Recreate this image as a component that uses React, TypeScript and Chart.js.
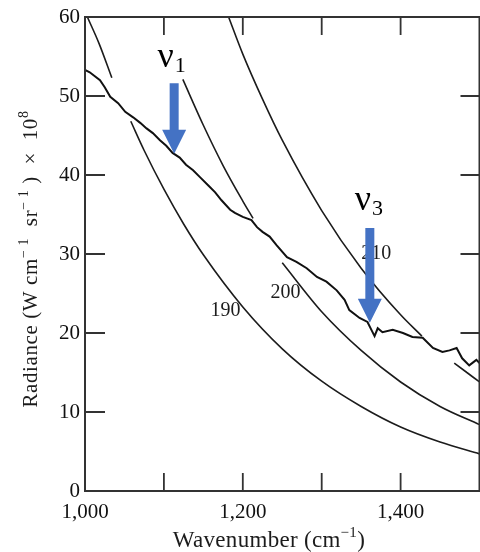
import React, { useEffect, useRef } from 'react';
import { Chart, registerables } from 'chart.js';

Chart.register(...registerables);

// ---- data ----
const spectrumWavenumber = [1000,1006,1019,1025,1032,1042,1051,1061,1070,1078,1086,1095,1103,1111,1120,1128,1137,1146,1156,1165,1173,1184,1190,1200,1211,1218,1225,1234,1243,1256,1268,1281,1294,1306,1319,1329,1335,1348,1358,1363,1367,1371,1377,1390,1403,1415,1428,1441,1453,1462,1471,1478,1487,1496,1500];
const spectrumRadiance = [53.3,53.0,52.0,51.1,49.9,49.1,48.0,47.3,46.6,45.9,45.3,44.4,43.7,42.8,42.2,41.3,40.6,39.7,38.7,37.8,36.8,35.6,35.2,34.7,34.3,33.4,32.8,32.2,31.1,29.6,29.0,28.2,27.1,26.5,25.4,24.2,22.9,21.9,21.4,20.4,19.6,20.6,20.1,20.4,20.0,19.5,19.4,18.1,17.6,17.8,18.1,16.8,15.9,16.6,16.2];

const k190UpperWn = [1003, 1018, 1034];
const k190UpperRad = [60, 56.6, 52.3];
const k190LowerWn = [1058, 1075, 1100, 1125, 1150, 1200, 1250, 1300, 1350, 1400, 1450, 1500];
const k190LowerRad = [46.8, 43.1, 38.2, 33.8, 29.9, 23.3, 18.0, 13.9, 10.7, 8.1, 6.2, 4.7];

const k200UpperWn = [1124, 1150, 1175, 1200, 1213];
const k200UpperRad = [52.1, 46.3, 41.2, 36.7, 34.5];
const k200LowerWn = [1250, 1300, 1350, 1400, 1450, 1500];
const k200LowerRad = [28.9, 22.7, 17.8, 13.8, 10.7, 8.4];

const k210MainWn = [1182, 1200, 1225, 1250, 1300, 1350, 1400, 1427];
const k210MainRad = [60, 55.3, 49.6, 44.4, 35.5, 28.2, 22.3, 19.6];
const k210TailWn = [1468, 1484, 1500];
const k210TailRad = [16.2, 15.0, 13.8];

const curveLabels = ['190', '200', '210'];
const curveLabelWn = [1178, 1254, 1369];
const curveLabelRad = [22.8, 25.1, 30.0];

const bandNames = ['1', '3'];
const bandLabelWn = [1092, 1342];
const bandLabelRad = [53.7, 35.6];
const arrowWn = [1113, 1361];
const arrowTopRad = [51.6, 33.3];
const arrowTipRad = [42.7, 21.3];

const xLabelValues = [1000, 1200, 1400];
const xTickMarks = [1100, 1200, 1300, 1400];
const yTickMarks = [10, 20, 30, 40, 50];

const xTitleRuns = [{ t: 'Wavenumber (cm' }, { t: '\u22121', sup: true }, { t: ')' }];
const yTitleRuns = [
  { t: 'Radiance (W cm' }, { t: '\u2212 1', sup: true }, { t: '  sr' }, { t: '\u2212 1', sup: true },
  { t: ' )  \u00d7  10' }, { t: '8', sup: true },
];

const SERIF = '"Liberation Serif", "Times New Roman", serif';
const INK = '#1c1c1c';
const BLUE = '#4472C4';

type Run = { t: string; sup?: boolean };

function drawRuns(ctx: CanvasRenderingContext2D, runs: Run[], cx: number, baseY: number, size: number, supSize: number, raise: number, spacing: number) {
  (ctx as any).letterSpacing = `${spacing}px`;
  const widths = runs.map((r) => {
    ctx.font = `${r.sup ? supSize : size}px ${SERIF}`;
    return ctx.measureText(r.t).width;
  });
  const total = widths.reduce((a, b) => a + b, 0);
  let x = cx - total / 2;
  ctx.textAlign = 'left';
  ctx.textBaseline = 'alphabetic';
  runs.forEach((r, i) => {
    ctx.font = `${r.sup ? supSize : size}px ${SERIF}`;
    ctx.fillText(r.t, x, r.sup ? baseY - raise : baseY);
    x += widths[i];
  });
  (ctx as any).letterSpacing = '0px';
}

const decorPlugin = {
  id: 'decor',
  afterDraw(chart: any) {
    const { ctx, chartArea, scales } = chart;
    const { left, right, top, bottom } = chartArea;
    const xs = scales.x;
    const ys = scales.y;
    ctx.save();
    // frame
    ctx.strokeStyle = '#333';
    ctx.lineWidth = 2;
    ctx.strokeRect(left, top, right - left, bottom - top);
    // inward ticks
    ctx.lineWidth = 1.8;
    ctx.beginPath();
    for (const v of yTickMarks) {
      const py = ys.getPixelForValue(v);
      ctx.moveTo(left, py); ctx.lineTo(left + 20, py);
      ctx.moveTo(right, py); ctx.lineTo(right - 19, py);
    }
    for (const v of xTickMarks) {
      const px = xs.getPixelForValue(v);
      ctx.moveTo(px, bottom); ctx.lineTo(px, bottom - 18);
      ctx.moveTo(px, top); ctx.lineTo(px, top + 18);
    }
    ctx.stroke();

    // curve temperature labels
    ctx.fillStyle = INK;
    ctx.font = `20px ${SERIF}`;
    ctx.textAlign = 'center';
    ctx.textBaseline = 'middle';
    curveLabels.forEach((s, i) => {
      ctx.fillText(s, xs.getPixelForValue(curveLabelWn[i]), ys.getPixelForValue(curveLabelRad[i]));
    });

    // band labels nu_1, nu_3
    bandNames.forEach((n, i) => {
      const px = xs.getPixelForValue(bandLabelWn[i]);
      const py = ys.getPixelForValue(bandLabelRad[i]);
      ctx.fillStyle = '#000';
      ctx.textAlign = 'left';
      ctx.textBaseline = 'alphabetic';
      ctx.font = `36px ${SERIF}`;
      ctx.fillText('\u03bd', px, py);
      const w = ctx.measureText('\u03bd').width;
      ctx.font = `22px ${SERIF}`;
      ctx.fillText(n, px + w + 1, py + 5);
    });

    // arrows
    ctx.fillStyle = BLUE;
    arrowWn.forEach((wn, i) => {
      const px = xs.getPixelForValue(wn);
      const pTop = ys.getPixelForValue(arrowTopRad[i]);
      const pTip = ys.getPixelForValue(arrowTipRad[i]);
      const headLen = 24, headHalf = 12, shaftHalf = 4.5;
      ctx.beginPath();
      ctx.moveTo(px - shaftHalf, pTop);
      ctx.lineTo(px + shaftHalf, pTop);
      ctx.lineTo(px + shaftHalf, pTip - headLen);
      ctx.lineTo(px + headHalf, pTip - headLen);
      ctx.lineTo(px, pTip);
      ctx.lineTo(px - headHalf, pTip - headLen);
      ctx.lineTo(px - shaftHalf, pTip - headLen);
      ctx.closePath();
      ctx.fill();
    });

    // axis titles
    ctx.fillStyle = INK;
    drawRuns(ctx, xTitleRuns, 269, 547, 23, 15, 10, 0.3);
    ctx.save();
    ctx.translate(37, 259);
    ctx.rotate(-Math.PI / 2);
    drawRuns(ctx, yTitleRuns, 0, 0, 21, 14, 9, 0.6);
    ctx.restore();

    ctx.restore();
  },
};

const App = () => {
  const ref = useRef<HTMLCanvasElement>(null);
  useEffect(() => {
    document.body.style.margin = '0';
    const canvas = ref.current!;
    const mk = (xs: number[], ys: number[]) => xs.map((x, i) => ({ x, y: ys[i] }));
    const curve = (label: string, xs: number[], ys: number[]) => ({
      label,
      data: mk(xs, ys),
      borderColor: INK,
      borderWidth: 1.6,
      pointRadius: 0,
      cubicInterpolationMode: 'monotone' as const,
      fill: false,
    });
    const chart = new Chart(canvas, {
      type: 'line',
      data: {
        datasets: [
          { label: 'Observed', data: mk(spectrumWavenumber, spectrumRadiance), borderColor: '#111', borderWidth: 2, pointRadius: 0, tension: 0, fill: false },
          curve('190 K a', k190UpperWn, k190UpperRad),
          curve('190 K b', k190LowerWn, k190LowerRad),
          curve('200 K a', k200UpperWn, k200UpperRad),
          curve('200 K b', k200LowerWn, k200LowerRad),
          curve('210 K a', k210MainWn, k210MainRad),
          curve('210 K b', k210TailWn, k210TailRad),
        ],
      },
      options: {
        animation: false,
        responsive: false,
        devicePixelRatio: 1,
        layout: { padding: { top: 17, right: 0.5, left: 0, bottom: 0 } },
        plugins: { legend: { display: false }, tooltip: { enabled: false } },
        scales: {
          x: {
            type: 'linear',
            min: 1000,
            max: 1500,
            grid: { display: false, drawTicks: false },
            border: { display: false },
            ticks: {
              stepSize: 100,
              autoSkip: false,
              maxRotation: 0,
              padding: 9,
              color: '#111',
              font: { family: SERIF, size: 21 },
              callback: (v: any) => (xLabelValues.includes(Number(v)) ? Number(v).toLocaleString('en-US') : ''),
            },
            afterFit: (s: any) => { s.height = 61; s.paddingLeft = 0; s.paddingRight = 0; },
          },
          y: {
            type: 'linear',
            min: 0,
            max: 60,
            grid: { display: false, drawTicks: false },
            border: { display: false },
            ticks: {
              stepSize: 10,
              padding: 5,
              color: '#111',
              font: { family: SERIF, size: 21 },
            },
            afterFit: (s: any) => { s.width = 85; s.paddingTop = 0; s.paddingBottom = 0; },
          },
        },
      },
      plugins: [decorPlugin],
    });
    return () => chart.destroy();
  }, []);
  return <canvas ref={ref} width={480} height={552} style={{ display: 'block' }} />;
};

export default App;
